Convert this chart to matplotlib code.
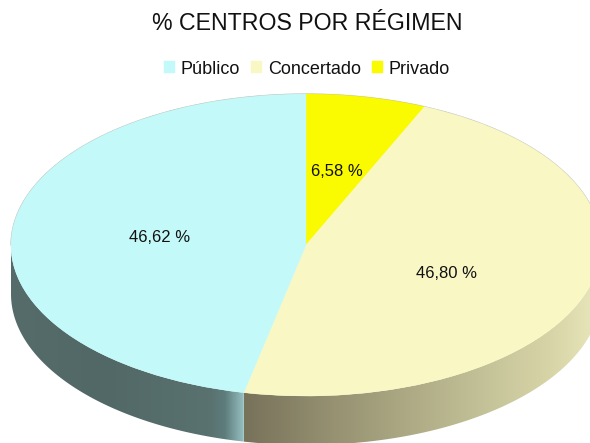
import numpy as np
import matplotlib
matplotlib.use('Agg')
import matplotlib.pyplot as plt
from matplotlib.colors import LinearSegmentedColormap
from matplotlib.patches import Polygon

plt.rcParams['font.family'] = ['Liberation Sans', 'DejaVu Sans']

categorias = ['Público', 'Concertado', 'Privado']
valores = [46.62, 46.80, 6.58]
etiquetas = ['46,62 %', '46,80 %', '6,58 %']
colores = ['#c4f9f9', '#f9f8c5', '#fafa00']

W, H = 590, 443
cx, cy = 306, 245      # centro del pastel en pixeles
rx, ry = 295, 151
depth = 49

def to_x(px):
    return (px - cx) / rx

def to_y(py):
    return (cy - py) / ry

fig = plt.figure(figsize=(W / 100, H / 100), dpi=100)
ax = fig.add_axes([0, 0, 1, 1])

# orden horario desde arriba: privado, concertado, publico
orden = [2, 1, 0]
wedges, _ = ax.pie([valores[i] for i in orden], colors=[colores[i] for i in orden],
                   startangle=90, counterclock=False, radius=1,
                   wedgeprops={'linewidth': 0, 'zorder': 3})
for w in wedges:
    w.set_edgecolor(w.get_facecolor())
    w.set_linewidth(0.3)
ax.set_axis_off()

# contorno fino, solo la parte de arriba
t = np.linspace(0, np.pi, 200)
ax.plot(np.cos(t), np.sin(t), color='#b5b8b0', lw=0.8, zorder=2.5)

# pared lateral con degradado
seam = 90 - 360 * (valores[2] + valores[1]) / sum(valores) + 360
d = depth / ry

def pared(a0, a1, stops, x0, x1):
    a = np.radians(np.linspace(a0, a1, 200))
    x, y = np.cos(a), np.sin(a)
    pts = np.r_[np.c_[x, y], np.c_[x[::-1], y[::-1] - d]]
    poly = Polygon(pts, closed=True, fc='none', ec='none', transform=ax.transData)
    ax.add_patch(poly)
    cmap = LinearSegmentedColormap.from_list('g', stops)
    im = ax.imshow(np.linspace(0, 1, 256)[None, :], cmap=cmap, aspect='auto',
                   extent=[x0, x1, -1.5, 0.2], zorder=1)
    im.set_clip_path(poly)

xs = np.cos(np.radians(seam))
pared(180, seam, [(0, '#566c6b'), (0.4, '#516866'), (0.85, '#59716f'), (0.92, '#5e7c7c'), (1, '#95bfc0')],
      -1, xs)
pared(seam, 360, [(0, '#77725a'), (0.25, '#969272'), (0.6, '#bdbb92'), (0.85, '#d8d6a8'), (1, '#ebeabf')],
      xs, 1.02)
ax.set_aspect('auto')
ax.set_xlim(to_x(0), to_x(W))
ax.set_ylim(to_y(H), to_y(0))

# etiquetas
pos = [(160, 238), (447, 273), (337, 172)]
for e, (px, py) in zip(etiquetas, pos):
    ax.text(to_x(px), to_y(py), e, ha='center', va='center', fontsize=12, color='#111111', zorder=5)

ax.text(to_x(307), to_y(24), '% CENTROS POR RÉGIMEN', ha='center', va='center', fontsize=16.7, color='#111111')

handles = [wedges[2], wedges[1], wedges[0]]
fig.legend(handles, categorias, ncols=3, loc='center', bbox_to_anchor=(307 / W, 1 - 69 / H),
           frameon=False, fontsize=13, handlelength=0.62, handleheight=0.62, handletextpad=0.3,
           columnspacing=0.62, labelcolor='#111111')

fig.savefig('out.png', dpi=100)
